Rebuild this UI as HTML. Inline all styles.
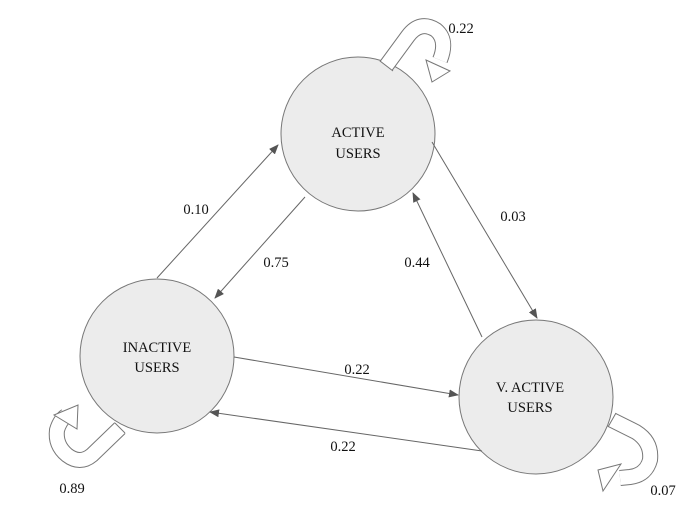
<!DOCTYPE html>
<html><head><style>
html,body{margin:0;padding:0;background:#fff;}
svg{display:block;}
text{font-family:"Liberation Serif",serif;font-size:14.5px;fill:#111;}
</style></head><body>
<svg width="700" height="521" viewBox="0 0 700 521" xmlns="http://www.w3.org/2000/svg">
<defs>
<marker id="a" markerWidth="10" markerHeight="8" refX="9" refY="4" orient="auto" markerUnits="userSpaceOnUse">
<path d="M0,0 L10,4 L0,8 z" fill="#555"/>
</marker>
</defs>
<g fill="#ececec" stroke="#777" stroke-width="1">
<circle cx="358" cy="134" r="77"/>
<circle cx="157" cy="356" r="77"/>
<circle cx="536" cy="397" r="77"/>
</g>
<g stroke="#666" stroke-width="1" fill="none" marker-end="url(#a)">
<line x1="157" y1="278" x2="278" y2="145"/>
<line x1="305" y1="197" x2="215" y2="298"/>
<line x1="432" y1="142" x2="537" y2="318"/>
<line x1="482" y1="337" x2="413" y2="193"/>
<line x1="234" y1="357" x2="458" y2="395"/>
<line x1="482" y1="451" x2="210" y2="412"/>
</g>
<g fill="none" stroke-linejoin="round">
<path d="M386,66 L408,36 Q420,20 436,30 Q448,40 440,60" stroke="#777" stroke-width="16"/>
<path d="M386,66 L408,36 Q420,20 436,30 Q448,40 440,60" stroke="#fff" stroke-width="14"/>
<path d="M120,428 L92,455 Q80,465 67,455 Q55,445 57,430 Q60,420 66,416" stroke="#777" stroke-width="16"/>
<path d="M120,428 L92,455 Q80,465 67,455 Q55,445 57,430 Q60,420 66,416" stroke="#fff" stroke-width="14"/>
<path d="M612,420 L636,432 Q652,442 650,460 Q646,475 630,477 L620,478" stroke="#777" stroke-width="16"/>
<path d="M612,420 L636,432 Q652,442 650,460 Q646,475 630,477 L620,478" stroke="#fff" stroke-width="14"/>
</g>
<g stroke="#777" stroke-width="1">
<line x1="380" y1="61" x2="393" y2="71"/>
<line x1="115" y1="423" x2="125" y2="433"/>
<line x1="616" y1="413" x2="608" y2="427"/>
</g>
<g fill="#fff" stroke="#777" stroke-width="1">
<polygon points="426,60 450,71 432,82"/>
<polygon points="54,415 78,405 77,429"/>
<polygon points="621,464 598,470 603,491"/>
</g>
<g text-anchor="middle">
<text x="358" y="137">ACTIVE</text>
<text x="358" y="158">USERS</text>
<text x="157" y="352">INACTIVE</text>
<text x="157" y="372">USERS</text>
<text x="530" y="392">V. ACTIVE</text>
<text x="530" y="412">USERS</text>
<text x="196" y="214">0.10</text>
<text x="276" y="267">0.75</text>
<text x="513" y="221">0.03</text>
<text x="417" y="267">0.44</text>
<text x="357" y="374">0.22</text>
<text x="343" y="451">0.22</text>
<text x="461" y="33">0.22</text>
<text x="72" y="493">0.89</text>
<text x="663" y="495">0.07</text>
</g>
</svg>
</body></html>
